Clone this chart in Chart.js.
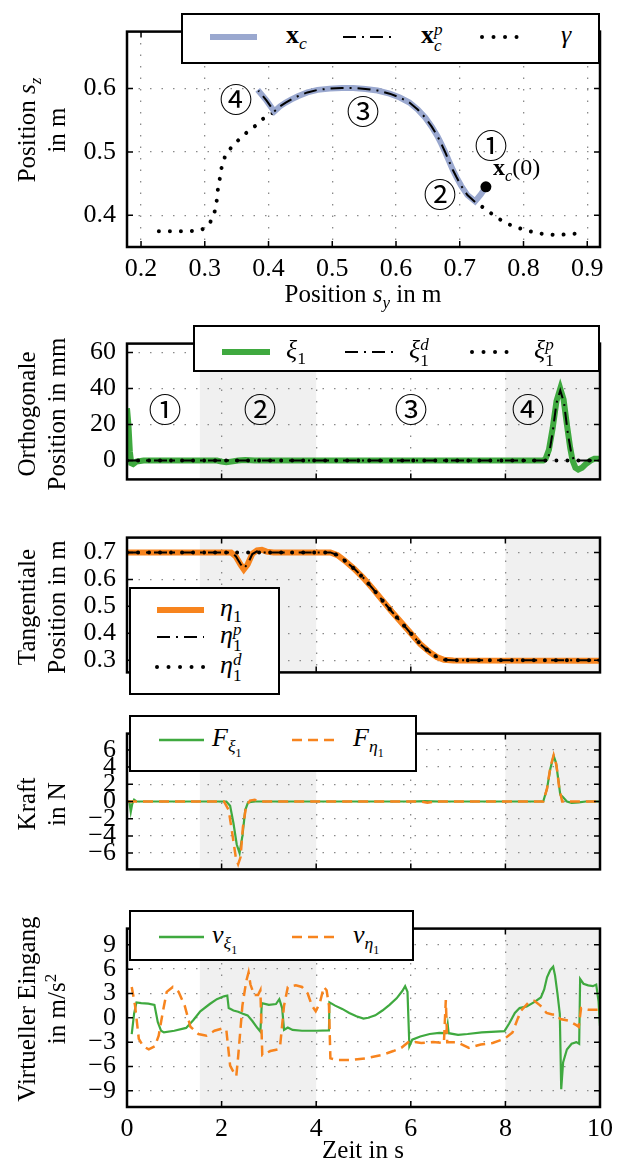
<!DOCTYPE html>
<html lang="de">
<head>
<meta charset="UTF-8">
<title>Bahnfolgeregelung</title>
<style>
  body { margin: 0; overflow: hidden; background: #fff; }
  #wrap { position: relative; width: 623px; height: 1162px; font-family: "Liberation Serif", serif; color: #000; }
  canvas { position: absolute; left: 0; }
  .lab { position: absolute; font-size: 25px; line-height: 30px; white-space: nowrap; }
  .ytitle { position: absolute; width: 300px; height: 60px; font-size: 25px; line-height: 30px; text-align: center; white-space: nowrap; transform: rotate(-90deg); }
  .legend { position: absolute; border: 2px solid #000; background: #fff; box-sizing: border-box; z-index: 2; }
  .legend svg { position: absolute; }
  .legend .t { position: absolute; font-size: 26px; line-height: 30px; white-space: nowrap; }
  .circ { position: absolute; font-family: "Noto Sans CJK JP", "DejaVu Sans"; font-size: 33px; line-height: 1; transform: translate(-50%, -50%); z-index: 2; }
  sub, sup { font-size: 68%; line-height: 0; }
  .ss { display: inline-flex; flex-direction: column; font-size: 66%; line-height: 0.9; vertical-align: 0.45em; }
</style>
</head>
<body>
<div id="wrap">
  <canvas id="c1"></canvas>
  <canvas id="c2"></canvas>
  <canvas id="c3"></canvas>
  <canvas id="c4"></canvas>
  <canvas id="c5"></canvas>

  <div class="ytitle" style="left:-108px; top:100px;">Position <i>s</i><sub><i>z</i></sub><br>in m</div>
  <div class="ytitle" style="left:-108px; top:384px;">Orthogonale<br>Position in mm</div>
  <div class="ytitle" style="left:-108px; top:577px;">Tangentiale<br>Position in m</div>
  <div class="ytitle" style="left:-108px; top:774px;">Kraft<br>in N</div>
  <div class="ytitle" style="left:-108px; top:979px;">Virtueller Eingang<br>in m/s<sup>2</sup></div>

  <div class="lab" style="left:213px; width:300px; text-align:center; top:279px;">Position <i>s</i><sub><i>y</i></sub> in m</div>
  <div class="lab" style="left:213px; width:300px; text-align:center; top:1135px;">Zeit in s</div>

  <div class="circ" style="left:491px; top:144px;">①</div>
  <div class="circ" style="left:440px; top:193px;">②</div>
  <div class="circ" style="left:363px; top:110px;">③</div>
  <div class="circ" style="left:236px; top:98px;">④</div>
  <div class="lab" style="left:493px; top:152px; font-size:24px; z-index:2;"><b>x</b><sub><i>c</i></sub>(0)</div>

  <div class="circ" style="left:165px; top:408px;">①</div>
  <div class="circ" style="left:260px; top:408px;">②</div>
  <div class="circ" style="left:411px; top:408px;">③</div>
  <div class="circ" style="left:528px; top:408px;">④</div>
</div>

<script src="https://cdn.jsdelivr.net/npm/chart.js"></script>
<script>
    // ---- Bahn in der Ebene (s_y, s_z) ----
    const syTicks = [0.2, 0.3, 0.4, 0.5, 0.6, 0.7, 0.8, 0.9];
    const szTicks = [0.4, 0.5, 0.6];

    const xcSy = [0.741, 0.733, 0.724, 0.712, 0.702, 0.695, 0.689, 0.683, 0.677, 0.671, 0.665, 0.656, 0.646, 0.634, 0.621, 0.606, 0.590, 0.571, 0.552, 0.533, 0.515, 0.496, 0.477, 0.461, 0.446, 0.436, 0.427, 0.418, 0.409, 0.397, 0.383];
    const xcSz = [0.445, 0.433, 0.422, 0.432, 0.447, 0.460, 0.472, 0.486, 0.500, 0.513, 0.525, 0.540, 0.554, 0.567, 0.578, 0.586, 0.592, 0.597, 0.5995, 0.601, 0.601, 0.600, 0.598, 0.594, 0.588, 0.583, 0.578, 0.572, 0.564, 0.581, 0.598];

    const xcpSy = [0.724, 0.712, 0.702, 0.695, 0.689, 0.683, 0.677, 0.671, 0.665, 0.656, 0.646, 0.634, 0.621, 0.606, 0.590, 0.571, 0.552, 0.533, 0.515, 0.496, 0.477, 0.461, 0.446, 0.436, 0.427, 0.418, 0.409, 0.397, 0.384];
    const xcpSz = [0.421, 0.432, 0.447, 0.460, 0.472, 0.486, 0.500, 0.513, 0.525, 0.540, 0.554, 0.567, 0.578, 0.586, 0.592, 0.597, 0.5995, 0.601, 0.601, 0.600, 0.598, 0.594, 0.588, 0.583, 0.578, 0.572, 0.564, 0.581, 0.597];

    const gammaSy = [0.228, 0.245, 0.262, 0.279, 0.295, 0.303, 0.309, 0.314, 0.317, 0.319, 0.320, 0.322, 0.325, 0.327, 0.333, 0.343, 0.354, 0.366, 0.379, 0.391, 0.409, 0.418, 0.427, 0.436, 0.446, 0.461, 0.477, 0.496, 0.515, 0.533, 0.552, 0.571, 0.590, 0.606, 0.621, 0.634, 0.646, 0.656, 0.665, 0.671, 0.677, 0.683, 0.689, 0.695, 0.702, 0.712, 0.720, 0.728, 0.741, 0.755, 0.770, 0.786, 0.802, 0.817, 0.834, 0.852, 0.870, 0.886];
    const gammaSz = [0.375, 0.375, 0.375, 0.375, 0.377, 0.383, 0.390, 0.400, 0.412, 0.425, 0.437, 0.450, 0.465, 0.480, 0.496, 0.509, 0.520, 0.531, 0.541, 0.552, 0.563, 0.572, 0.578, 0.583, 0.588, 0.594, 0.598, 0.600, 0.601, 0.601, 0.5995, 0.597, 0.592, 0.586, 0.578, 0.567, 0.554, 0.540, 0.525, 0.513, 0.500, 0.486, 0.472, 0.460, 0.447, 0.432, 0.424, 0.419, 0.409, 0.399, 0.389, 0.382, 0.377, 0.373, 0.370, 0.369, 0.370, 0.3715];

    const xc0 = [0.741, 0.445];

    // ---- Zeitverläufe ----
    const tTicks = [0, 2, 4, 6, 8, 10];
    const phases = [[1.54, 4.0], [8.0, 10]];

    const tXi = [0, 0.03, 0.06, 0.09, 0.13, 0.2, 0.35, 1.9, 2.0, 2.1, 2.2, 2.35, 2.5, 2.7, 8.8, 8.85, 8.92, 9.0, 9.08, 9.16, 9.23, 9.3, 9.37, 9.42, 9.48, 9.54, 9.62, 9.7, 9.8, 9.88, 10];
    const xi1 = [29, 20, 5, -1.5, -2, -0.6, 0, 0, -0.6, -1.0, -0.6, 0, 0.3, 0, 0, 1, 6, 18, 33, 40, 34, 20, 7, 0, -4, -5, -4, -2, 0, 1, 1];
    const tXiD = [0, 8.85, 8.92, 9.0, 9.08, 9.16, 9.24, 9.32, 9.4, 9.46, 10];
    const xi1d = [0, 0, 3, 16, 32, 39, 32, 15, 3, 0, 0];
    const tXiP = [0, 10];
    const xi1p = [0, 0];
    const xiTicks = [0, 20, 40, 60];

    const tEta = [0, 2.2, 2.3, 2.4, 2.47, 2.55, 2.65, 2.75, 2.85, 2.95, 3.1, 4.3, 4.45, 4.6, 4.8, 5.0, 5.2, 5.4, 5.6, 5.8, 6.0, 6.2, 6.4, 6.55, 6.7, 6.9, 10];
    const eta1 = [0.70, 0.70, 0.685, 0.655, 0.637, 0.655, 0.695, 0.708, 0.71, 0.703, 0.70, 0.70, 0.69, 0.67, 0.64, 0.605, 0.565, 0.522, 0.48, 0.44, 0.40, 0.36, 0.33, 0.312, 0.302, 0.299, 0.298];
    const tEtaP = [0, 2.2, 2.3, 2.4, 2.47, 2.55, 2.65, 2.75, 2.9, 4.3, 4.45, 4.6, 4.8, 5.0, 5.2, 5.4, 5.6, 5.8, 6.0, 6.2, 6.4, 6.55, 6.7, 6.9, 10];
    const eta1p = [0.70, 0.70, 0.686, 0.657, 0.64, 0.657, 0.694, 0.704, 0.70, 0.70, 0.69, 0.67, 0.64, 0.605, 0.565, 0.522, 0.48, 0.44, 0.40, 0.36, 0.33, 0.312, 0.302, 0.30, 0.30];
    const tEtaD = [0, 4.3, 4.45, 4.6, 4.8, 5.0, 5.2, 5.4, 5.6, 5.8, 6.0, 6.2, 6.4, 6.55, 6.7, 6.9, 10];
    const eta1d = [0.70, 0.70, 0.69, 0.67, 0.64, 0.605, 0.565, 0.522, 0.48, 0.44, 0.40, 0.36, 0.33, 0.312, 0.302, 0.30, 0.30];
    const etaTicks = [0.3, 0.4, 0.5, 0.6, 0.7];

    const tFxi = [0, 0.05, 0.08, 0.11, 0.15, 0.2, 2.1, 2.18, 2.25, 2.32, 2.38, 2.44, 2.5, 2.56, 2.7, 6.0, 6.3, 6.6, 8.8, 8.88, 8.95, 9.02, 9.07, 9.12, 9.16, 9.22, 9.3, 9.4, 9.55, 9.7, 10];
    const fXi = [0, 0, -1.2, -0.3, 0.2, 0, 0, -0.5, -2.5, -5, -6, -4, -1, -0.1, 0, 0, 0.05, 0, 0, 1.5, 3.8, 5.3, 4.5, 2.5, 0.8, 0.5, 0, -0.15, -0.1, 0, 0];
    const tFeta = [0, 2.05, 2.15, 2.22, 2.3, 2.35, 2.4, 2.45, 2.52, 2.6, 2.7, 2.8, 6.2, 6.35, 6.5, 8.8, 8.88, 8.95, 9.02, 9.08, 9.14, 9.2, 10];
    const fEta = [0, 0, -1, -3.5, -6.5, -7.3, -6.5, -3, -0.5, 0.1, 0.2, 0, 0, -0.15, 0, 0, 1.5, 4, 5.4, 4.2, 1.5, 0, 0];
    const fTicks = [-6, -4, -2, 0, 2, 4, 6];

    const tVxi = [0.1, 0.15, 0.2, 0.3, 0.45, 0.58, 0.65, 0.72, 0.78, 1.0, 1.25, 1.4, 1.55, 1.75, 1.9, 2.05, 2.12, 2.15, 2.25, 2.35, 2.45, 2.55, 2.65, 2.75, 2.82, 2.85, 3.0, 3.15, 3.22, 3.28, 3.32, 3.4, 3.5, 3.7, 4.0, 4.27, 4.28, 4.4, 4.55, 4.7, 4.85, 5.0, 5.1, 5.25, 5.4, 5.55, 5.7, 5.82, 5.88, 5.93, 5.97, 6.03, 6.2, 6.4, 6.6, 6.75, 6.78, 6.8, 7.0, 7.2, 7.5, 7.8, 7.98, 8.08, 8.2, 8.3, 8.45, 8.6, 8.75, 8.82, 8.88, 8.95, 9.01, 9.05, 9.1, 9.15, 9.18, 9.22, 9.3, 9.4, 9.5, 9.56, 9.58, 9.65, 9.75, 9.85, 9.92, 9.97, 10.0];
    const vXi = [-2.0, 0.5, 1.9, 1.8, 1.75, 1.6, -0.5, -1.6, -1.8, -1.6, -1.25, -0.3, 0.8, 1.7, 2.3, 2.65, 2.75, 1.2, 0.9, 0.75, 0.5, 0.3, -0.4, -1.2, -1.7, 1.8, 1.6, 1.7, 2.3, 1.2, -1.5, -1.2, -1.5, -1.6, -1.6, -1.55, 1.9, 1.5, 1.1, 0.6, 0.2, -0.1, 0, 0.3, 0.9, 1.6, 2.4, 3.3, 3.9, 3.2, -3.5, -2.7, -2.3, -2.0, -1.85, -1.9, -0.8, -1.9, -2.1, -2.0, -1.8, -1.7, -1.65, -0.7, 0.6, 1.2, 1.4, 1.9, 2.5, 3.5, 5.0, 5.9, 6.3, 5.2, 3.0, 0.5, -8.8, -5.5, -3.9, -3.2, -3.0, -3.2, 4.8, 4.2, 4.0, 3.9, 4.1, 2.0, -1.0];
    const tVeta = [0.1, 0.17, 0.25, 0.34, 0.46, 0.59, 0.67, 0.76, 0.84, 0.97, 1.09, 1.22, 1.34, 1.51, 1.68, 1.85, 2.02, 2.1, 2.14, 2.18, 2.27, 2.31, 2.35, 2.44, 2.52, 2.57, 2.61, 2.69, 2.77, 2.82, 2.86, 3.03, 3.19, 3.24, 3.32, 3.4, 3.57, 3.7, 3.82, 3.91, 3.99, 4.08, 4.16, 4.22, 4.27, 4.3, 4.45, 4.71, 5.04, 5.38, 5.63, 5.8, 5.97, 6.22, 6.47, 6.7, 6.74, 6.77, 6.97, 7.23, 7.48, 7.73, 7.98, 8.15, 8.32, 8.49, 8.61, 8.74, 8.87, 8.99, 9.08, 9.16, 9.33, 9.5, 9.55, 9.6, 9.75, 10];
    const vEta = [3.8, 1.5, -2.6, -3.5, -3.9, -3.5, -2.2, 0.8, 3.2, 3.8, 3.2, 1.5, -1.1, -2.0, -2.2, -1.6, -1.3, -1.5, -3.7, -5.9, -6.9, -7.2, -4.8, 1.5, 4.5, 5.6, 4.1, 2.8, 2.8, 3.4, -4.6, -4.1, -3.9, -3.3, 1.5, 3.8, 4.0, 3.8, 3.0, 1.5, 0.8, 1.9, 3.8, 3.4, 1.5, -5.0, -5.2, -5.2, -5.0, -4.6, -4.1, -3.7, -2.9, -3.1, -3.0, -3.1, 2.2, -3.0, -3.0, -3.7, -3.3, -3.1, -2.6, -1.8, 0.8, 1.9, 2.1, 1.5, 0.6, 0.4, 0.4, -0.15, -0.35, -0.9, -1.1, 1.2, 1.0, 1.0];
    const vTicks = [-9, -6, -3, 0, 3, 6, 9];

    // ---- Stil ----
    const cBlue = '#9aa8cf';
    const cGreen = '#3fa93f';
    const cOrange = '#f7841e';
    const dashDot = [13, 6, 2, 6];
    const dotted = [0.01, 11];
    const tickFont = { family: 'Liberation Serif', size: 26 };

    function pts(xs, ys) {
        return xs.map((x, i) => ({ x: x, y: ys[i] }));
    }

    function minus(v) {
        return v < 0 ? '\u2212' + Math.abs(v) : String(v);
    }

    function line(data, color, width, dash, order, cap) {
        return {
            data: data, showLine: true, pointRadius: 0, borderColor: color,
            borderWidth: width, borderDash: dash || [], borderCapStyle: cap || 'butt',
            tension: 0, order: order
        };
    }

    // Rahmen, innenliegende Ticks und Phasen-Schattierung
    const frame = {
        id: 'frame',
        beforeDraw(chart, args, opts) {
            if (!opts.shade) return;
            const { ctx, chartArea: a, scales: { x } } = chart;
            ctx.save();
            ctx.fillStyle = '#f0f0f0';
            opts.shade.forEach(s => {
                const x0 = x.getPixelForValue(s[0]), x1 = x.getPixelForValue(s[1]);
                ctx.fillRect(x0, a.top, x1 - x0, a.bottom - a.top);
            });
            ctx.restore();
        },
        afterDraw(chart) {
            const { ctx, chartArea: a, scales: { x, y } } = chart;
            ctx.save();
            ctx.strokeStyle = '#000';
            ctx.lineWidth = 1.5;
            ctx.beginPath();
            x.ticks.forEach(t => {
                const p = x.getPixelForValue(t.value);
                ctx.moveTo(p, a.bottom); ctx.lineTo(p, a.bottom - 6);
                ctx.moveTo(p, a.top); ctx.lineTo(p, a.top + 6);
            });
            y.ticks.forEach(t => {
                const p = y.getPixelForValue(t.value);
                ctx.moveTo(a.left, p); ctx.lineTo(a.left + 6, p);
                ctx.moveTo(a.right, p); ctx.lineTo(a.right - 6, p);
            });
            ctx.stroke();
            ctx.lineWidth = 2.5;
            ctx.strokeRect(a.left, a.top, a.right - a.left, a.bottom - a.top);
            ctx.restore();
        }
    };

    function plot(id, top, bottom, extra, cfg) {
        const cv = document.getElementById(id);
        const padTop = 8;
        const padBottom = extra ? 0 : 4;
        cv.style.top = (top - padTop) + 'px';
        cv.width = 623;
        cv.height = bottom - top + padTop + (extra || 4);
        const gridStyle = { color: '#8a8a8a', lineWidth: 1.3, drawTicks: false };
        const borderStyle = { display: false, dash: [1.5, 10] };
        return new Chart(cv, {
            type: 'scatter',
            data: { datasets: cfg.datasets },
            plugins: [frame],
            options: {
                responsive: false,
                animation: false,
                devicePixelRatio: 1,
                layout: { padding: { top: padTop, right: 23, left: 0, bottom: padBottom } },
                scales: {
                    x: {
                        type: 'linear', min: cfg.xmin, max: cfg.xmax,
                        afterBuildTicks: s => { s.ticks = cfg.xticks.map(v => ({ value: v })); },
                        afterFit: s => { s.height = extra; },
                        grid: gridStyle, border: borderStyle,
                        ticks: {
                            display: !!extra, font: tickFont, color: '#000', padding: 7,
                            maxRotation: 0, autoSkip: false, callback: cfg.xfmt || minus
                        }
                    },
                    y: {
                        type: 'linear', min: cfg.ymin, max: cfg.ymax,
                        afterBuildTicks: s => { s.ticks = cfg.yticks.map(v => ({ value: v })); },
                        afterFit: s => { s.width = 127; },
                        grid: gridStyle, border: borderStyle,
                        ticks: { font: tickFont, color: '#000', padding: 11, autoSkip: false, callback: cfg.yfmt || minus }
                    }
                },
                plugins: {
                    legend: { display: false },
                    tooltip: { enabled: false },
                    frame: { shade: cfg.shade }
                }
            }
        });
    }

    const fmt1 = v => v.toFixed(1);

    plot('c1', 13, 247, 40, {
        xmin: 0.178, xmax: 0.92, ymin: 0.35, ymax: 0.69,
        xticks: syTicks, yticks: szTicks, xfmt: fmt1, yfmt: fmt1,
        datasets: [
            { data: [{ x: xc0[0], y: xc0[1] }], pointRadius: 5.5, backgroundColor: '#000', borderWidth: 0, order: 0 },
            line(pts(xcpSy, xcpSz), '#000', 2, dashDot, 1),
            line(pts(xcSy, xcSz), cBlue, 6, null, 2),
            line(pts(gammaSy, gammaSz), '#000', 4, dotted, 3, 'round')
        ]
    });

    plot('c2', 325, 502, 0, {
        xmin: 0, xmax: 10, ymin: -10.5, ymax: 65, xticks: tTicks, yticks: xiTicks, shade: phases,
        datasets: [
            line(pts(tXiP, xi1p), '#000', 4, dotted, 0, 'round'),
            line(pts(tXiD, xi1d), '#000', 2, dashDot, 1),
            line(pts(tXi, xi1), cGreen, 6, null, 2)
        ]
    });

    plot('c3', 519, 695, 0, {
        xmin: 0, xmax: 10, ymin: 0.255, ymax: 0.755, xticks: tTicks, yticks: etaTicks, yfmt: fmt1, shade: phases,
        datasets: [
            line(pts(tEtaD, eta1d), '#000', 4, dotted, 0, 'round'),
            line(pts(tEtaP, eta1p), '#000', 2, dashDot, 1),
            line(pts(tEta, eta1), cOrange, 6, null, 2)
        ]
    });

    plot('c4', 715, 892, 0, {
        xmin: 0, xmax: 10, ymin: -7.9, ymax: 7.9, xticks: tTicks, yticks: fTicks, shade: phases,
        datasets: [
            line(pts(tFeta, fEta), cOrange, 2.5, [10, 6], 0),
            line(pts(tFxi, fXi), cGreen, 2.2, null, 1)
        ]
    });

    plot('c5', 910, 1107, 40, {
        xmin: 0, xmax: 10, ymin: -11, ymax: 11, xticks: tTicks, yticks: vTicks, shade: phases,
        datasets: [
            line(pts(tVeta, vEta), cOrange, 2.5, [10, 6], 0),
            line(pts(tVxi, vXi), cGreen, 2.2, null, 1)
        ]
    });

    // ---- Legenden (HTML-Text, SVG-Linienmuster) ----
    const wrap = document.getElementById('wrap');
    const sThick = c => ({ c: c, w: 6 });
    const sThin = c => ({ c: c, w: 2.5 });
    const sDashDot = { c: '#000', w: 2, d: '13 6 2 6' };
    const sDot = { c: '#000', w: 4, d: '0.01 11.5', cap: 'round' };
    const sDash = c => ({ c: c, w: 2.5, d: '10 6' });

    function legend(box, items) {
        const d = document.createElement('div');
        d.className = 'legend';
        d.style.left = box[0] + 'px';
        d.style.top = box[1] + 'px';
        d.style.width = box[2] + 'px';
        d.style.height = box[3] + 'px';
        let h = '';
        items.forEach(it => {
            const [x0, x1, yc, st, tx, html] = it;
            const w = x1 - x0;
            const lx = x0 - box[0] - 2 - 4, ly = yc - box[1] - 2 - 8;
            h += '<svg style="left:' + lx + 'px;top:' + ly + 'px" width="' + (w + 8) + '" height="16">' +
                '<line x1="4" y1="8" x2="' + (w + 4) + '" y2="8" stroke="' + st.c + '" stroke-width="' + st.w +
                '" stroke-dasharray="' + (st.d || 'none') + '" stroke-linecap="' + (st.cap || 'butt') + '"/></svg>';
            h += '<span class="t" style="left:' + (tx - box[0] - 2) + 'px;top:' + (yc - box[1] - 2 - 17) + 'px">' + html + '</span>';
        });
        d.innerHTML = h;
        wrap.appendChild(d);
    }

    legend([181, 13, 419, 51], [
        [210, 257, 37, { c: cBlue, w: 6 }, 286, '<b>x</b><sub><i>c</i></sub>'],
        [343, 393, 37, sDashDot, 421, '<b>x</b><span class="ss"><i>p</i><i>c</i></span>'],
        [482, 528, 37, sDot, 561, '<i>γ</i>']
    ]);
    legend([193, 325, 407, 47], [
        [222, 270, 352, sThick(cGreen), 286, '<i>ξ</i><sub>1</sub>'],
        [345, 393, 352, sDashDot, 409, '<i>ξ</i><span class="ss"><i>d</i><span>1</span></span>'],
        [472, 516, 352, sDot, 534, '<i>ξ</i><span class="ss"><i>p</i><span>1</span></span>']
    ]);
    legend([129, 587, 151, 108], [
        [157, 204, 610, sThick(cOrange), 220, '<i>η</i><sub>1</sub>'],
        [157, 204, 637, sDashDot, 220, '<i>η</i><span class="ss"><i>p</i><span>1</span></span>'],
        [157, 204, 667, sDot, 220, '<i>η</i><span class="ss"><i>d</i><span>1</span></span>']
    ]);
    legend([129, 715, 288, 57], [
        [159, 204, 740, sThin(cGreen), 212, '<i>F</i><sub><i>ξ</i><sub>1</sub></sub>'],
        [292, 337, 740, sDash(cOrange), 353, '<i>F</i><sub><i>η</i><sub>1</sub></sub>']
    ]);
    legend([129, 910, 285, 51], [
        [159, 204, 937, sThin(cGreen), 212, '<i>v</i><sub><i>ξ</i><sub>1</sub></sub>'],
        [292, 337, 937, sDash(cOrange), 353, '<i>v</i><sub><i>η</i><sub>1</sub></sub>']
    ]);
</script>
</body>
</html>
